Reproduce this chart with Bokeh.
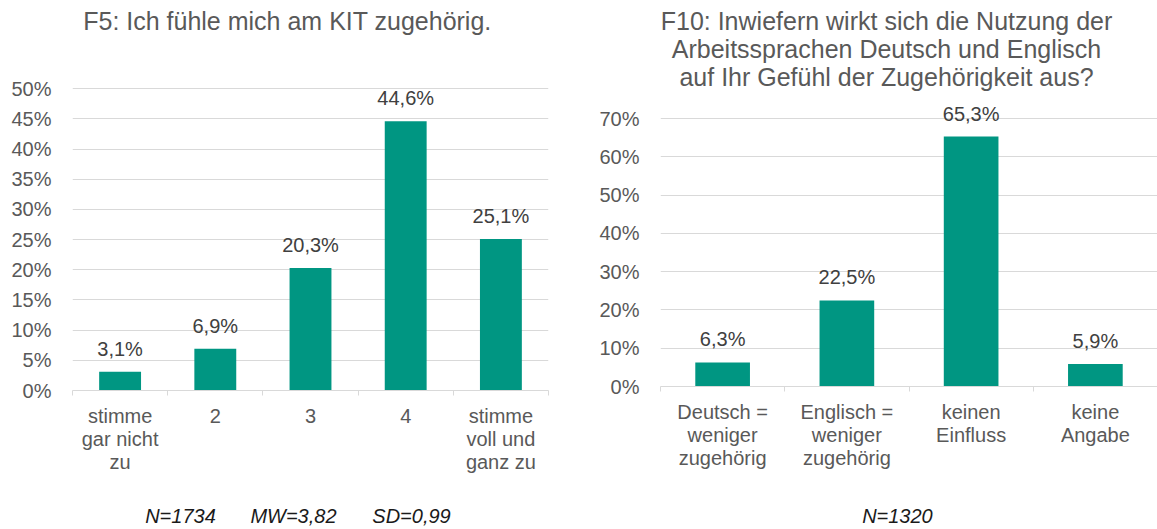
from bokeh.plotting import figure
from bokeh.models import (Range1d, FixedTicker, PrintfTickFormatter, LabelSet,
                          ColumnDataSource, LinearAxis)
from bokeh.core.properties import value
from bokeh.layouts import row
from bokeh.embed import file_html
from bokeh.resources import INLINE

# ---------------- data ----------------
F5_TITLE = "F5: Ich fühle mich am KIT zugehörig."
F5_CATEGORIES = ["stimme\ngar nicht\nzu", "2", "3", "4", "stimme\nvoll und\nganz zu"]
F5_VALUES = [3.1, 6.9, 20.3, 44.6, 25.1]
F5_Y_TICKS = [0, 5, 10, 15, 20, 25, 30, 35, 40, 45, 50]
F5_NOTES = ["N=1734", "MW=3,82", "SD=0,99"]

F10_TITLE = "F10: Inwiefern wirkt sich die Nutzung der\nArbeitssprachen Deutsch und Englisch\nauf Ihr Gefühl der Zugehörigkeit aus?"
F10_CATEGORIES = ["Deutsch =\nweniger\nzugehörig", "Englisch =\nweniger\nzugehörig", "keinen\nEinfluss", "keine\nAngabe"]
F10_VALUES = [6.3, 22.5, 65.3, 5.9]
F10_Y_TICKS = [0, 10, 20, 30, 40, 50, 60, 70]
F10_NOTES = ["N=1320"]

# ---------------- style ----------------
GREEN = "#009682"
GRID = "#d9d9d9"
AXIS_TEXT = "#595959"
LABEL_TEXT = "#404040"
NOTE_TEXT = "#1a1a1a"
FONT = "Liberation Sans"


def fmt(v):
    return f"{v:.1f}".replace(".", ",") + "%"


def text_axis(x_pos, texts, size, color, style, standoff, line_height=1.0):
    ax = LinearAxis(ticker=FixedTicker(ticks=list(x_pos), minor_ticks=[]),
                    major_label_overrides={x: t for x, t in zip(x_pos, texts)})
    ax.axis_line_color = None
    ax.major_tick_line_color = None
    ax.minor_tick_line_color = None
    ax.major_tick_in = 0
    ax.major_tick_out = 0
    ax.minor_tick_in = 0
    ax.minor_tick_out = 0
    ax.major_label_standoff = standoff
    ax.major_label_text_font = FONT
    ax.major_label_text_font_size = size
    ax.major_label_text_font_style = style
    ax.major_label_text_color = color
    ax.major_label_text_line_height = line_height
    return ax


def make_chart(cats, vals, yticks, ymax, frame_w, frame_h, mb, bar_width):
    n = len(cats)
    centers = [i + 0.5 for i in range(n)]
    bounds = [float(i) for i in range(n + 1)]
    p = figure(frame_width=frame_w, frame_height=frame_h,
               x_range=Range1d(0, n), y_range=Range1d(0, ymax),
               output_backend="svg", toolbar_location=None, title=None,
               min_border_left=mb[0], min_border_right=mb[1],
               min_border_top=mb[2], min_border_bottom=mb[3])
    try:
        p.frame_align = False
    except Exception:
        pass
    p.outline_line_color = None
    p.background_fill_color = "white"
    p.border_fill_color = "white"

    src = ColumnDataSource(dict(x=centers, top=vals, label=[fmt(v) for v in vals]))
    p.vbar(x="x", top="top", width=bar_width, bottom=0, source=src,
           fill_color=GREEN, line_color=None)
    p.add_layout(LabelSet(x="x", y="top", text="label", source=src, y_offset=16,
                          text_align="center", text_baseline="alphabetic",
                          text_font=value(FONT), text_font_size=value("20px"),
                          text_color=LABEL_TEXT))

    yt = FixedTicker(ticks=yticks, minor_ticks=[])
    p.yaxis.ticker = yt
    p.ygrid.ticker = yt
    p.yaxis.formatter = PrintfTickFormatter(format="%d%%")
    p.yaxis.axis_line_color = None
    p.yaxis.major_tick_line_color = None
    p.yaxis.minor_tick_line_color = None
    p.yaxis.major_label_text_font = FONT
    p.yaxis.major_label_text_font_size = "20px"
    p.yaxis.major_label_text_color = AXIS_TEXT
    p.yaxis.major_label_standoff = 15
    p.ygrid.grid_line_color = GRID
    p.ygrid.grid_line_width = 1
    p.xgrid.visible = False

    xt = FixedTicker(ticks=centers, minor_ticks=bounds)
    p.xaxis.ticker = xt
    p.xaxis.major_label_overrides = {c: lab for c, lab in zip(centers, cats)}
    p.xaxis.axis_line_color = GRID
    p.xaxis.axis_line_width = 1
    p.xaxis.major_tick_line_color = None
    p.xaxis.major_tick_out = 0
    p.xaxis.major_tick_in = 0
    p.xaxis.minor_tick_line_color = GRID
    p.xaxis.minor_tick_out = 5
    p.xaxis.minor_tick_in = 0
    p.xaxis.major_label_text_font = FONT
    p.xaxis.major_label_text_font_size = "20px"
    p.xaxis.major_label_text_color = AXIS_TEXT
    p.xaxis.major_label_text_line_height = 1.05
    p.xaxis.major_label_standoff = 9
    return p


# Left chart: frame 72..548 x 58..390
p1 = make_chart(F5_CATEGORIES, F5_VALUES, F5_Y_TICKS, 55, 476, 332, (72, 32, 58, 139), 0.44)
p1.add_layout(text_axis([2.258], [F5_TITLE], "25px", AXIS_TEXT, "normal", 24), "above")
p1.add_layout(text_axis([1.134, 2.321, 3.561], F5_NOTES, "20px", NOTE_TEXT, "italic", 29), "below")

# Right chart: frame 660..1157 x 99..386
p2 = make_chart(F10_CATEGORIES, F10_VALUES, F10_Y_TICKS, 75, 497, 287, (80, 0, 99, 143), 0.44)
p2.add_layout(text_axis([1.819], [F10_TITLE], "25px", AXIS_TEXT, "normal", 9, 1.0), "above")
p2.add_layout(text_axis([1.907], F10_NOTES, "20px", NOTE_TEXT, "italic", 33), "below")

layout = row(p1, p2)
open("out.html", "w").write(file_html(layout, INLINE))
